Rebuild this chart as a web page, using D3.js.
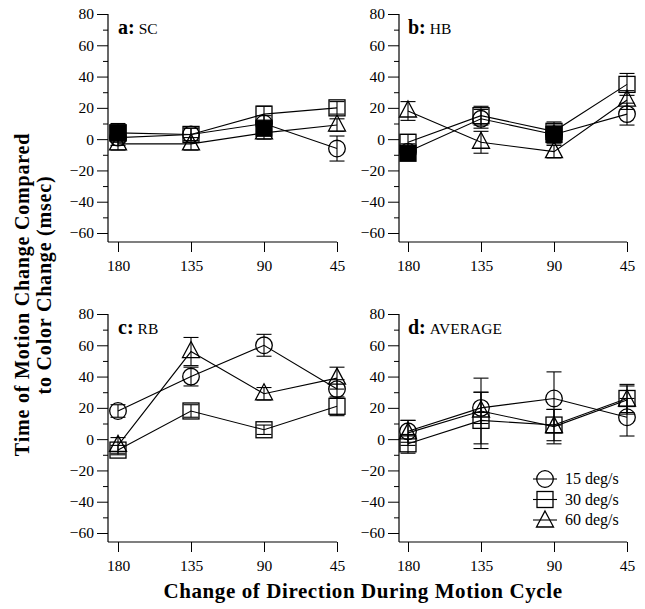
<!DOCTYPE html>
<html><head><meta charset="utf-8">
<script src="https://cdn.jsdelivr.net/npm/d3@7"></script>
<style>
html,body{margin:0;padding:0;background:#fff;}
svg{display:block;}
text{font-family:"Liberation Serif","Times New Roman",serif;fill:#000;}
</style></head>
<body>
<svg id="chart" width="645" height="609"></svg>
<script>
// ---- data ----
const categories = ["180", "135", "90", "45"];
const panelIds = ["a", "b", "c", "d"];
const panelNames = ["SC", "HB", "RB", "AVERAGE"];
const seriesNames = ["15 deg/s", "30 deg/s", "60 deg/s"];
const yTickValues = [-60, -40, -20, 0, 20, 40, 60, 80];
const yMinorValues = [-50, -30, -10, 10, 30, 50, 70];

// values per panel [a, b, c, d], per category [180,135,90,45]
const s15 = [[1, 3, 10, -6], [-8, 13, 3, 16], [18, 40, 60, 32], [5, 20, 26, 14]];
const s15err = [[5, 4, 5, 8], [5, 6, 6, 7], [4, 6, 7, 6], [7, 10, 17, 12]];
const s30 = [[4, 3, 16, 20], [-2, 15, 5, 35], [-7, 18, 6, 21], [-3, 12, 9, 26]];
const s30err = [[6, 4, 5, 4], [5, 6, 6, 7], [3, 4, 3, 6], [6, 18, 10, 9]];
const s60 = [[-3, -3, 4, 9], [18, -2, -8, 25], [-4, 56, 29, 39], [4, 18, 8, 25]];
const s60err = [[4, 4, 4, 4], [6, 7, 4, 6], [5, 9, 4, 7], [8, 21, 11, 9]];
const filledSq = [[4, null, 7, null], [-9, null, 3, null], [null, null, null, null], [null, null, null, null]];

// ---- layout ----
const FONT = "'Liberation Serif', 'Times New Roman', serif";
const svg = d3.select("#chart");
const panelLayout = [
  {ax: 108, top: 14, bot: 233, x0: 118, x1: 337},
  {ax: 399, top: 14, bot: 233, x0: 408, x1: 627},
  {ax: 108, top: 314, bot: 533, x0: 118, x1: 337},
  {ax: 399, top: 314, bot: 533, x0: 408, x1: 627}
];
const series = [
  {vals: s15, errs: s15err, shape: "circle"},
  {vals: s30, errs: s30err, shape: "square"},
  {vals: s60, errs: s60err, shape: "triangle"}
];
const SW = 1.3;

function marker(g, shape, cx, cy, filled) {
  const fill = filled ? "#000" : "none";
  if (shape === "circle") {
    g.append("circle").attr("cx", cx).attr("cy", cy).attr("r", 8.3)
      .attr("fill", fill).attr("stroke", "#000").attr("stroke-width", SW);
  } else if (shape === "square") {
    g.append("rect").attr("x", cx - 8).attr("y", cy - 8).attr("width", 16).attr("height", 16)
      .attr("fill", fill).attr("stroke", "#000").attr("stroke-width", SW);
  } else {
    g.append("path").attr("d", `M${cx},${cy - 10}L${cx + 8.5},${cy + 6}L${cx - 8.5},${cy + 6}Z`)
      .attr("fill", fill).attr("stroke", "#000").attr("stroke-width", SW);
  }
}

panelLayout.forEach((L, pi) => {
  const g = svg.append("g").attr("font-family", FONT);
  const y = d3.scaleLinear().domain([-60, 80]).range([L.bot, L.top]);
  const x = d3.scalePoint().domain(categories).range([L.x0, L.x1]);
  const bottomY = L.bot + 9;

  // y axis majors
  const ya = g.append("g").attr("transform", `translate(${L.ax},0)`)
    .call(d3.axisLeft(y).tickValues(yTickValues).tickSize(11).tickPadding(3).tickFormat(d3.format("d")));
  ya.attr("font-family", FONT);
  ya.select(".domain").remove();
  ya.selectAll("text").attr("font-size", 15.5).attr("font-family", FONT).attr("fill", "#000");
  ya.selectAll("line").attr("stroke", "#000");
  const ym = g.append("g").attr("transform", `translate(${L.ax},0)`)
    .call(d3.axisLeft(y).tickValues(yMinorValues).tickSize(5).tickFormat(""));
  ym.select(".domain").remove();
  ym.selectAll("line").attr("stroke", "#000");
  g.append("line").attr("x1", L.ax).attr("x2", L.ax).attr("y1", y(80)).attr("y2", bottomY)
    .attr("stroke", "#000").attr("stroke-width", 1.2);

  // x axis
  const xa = g.append("g").attr("transform", `translate(0,${bottomY})`)
    .call(d3.axisBottom(x).tickSize(10).tickPadding(8));
  xa.attr("font-family", FONT);
  xa.select(".domain").remove();
  xa.selectAll("text").attr("font-size", 15.5).attr("font-family", FONT).attr("fill", "#000");
  xa.selectAll("line").attr("stroke", "#000");
  g.append("line").attr("x1", L.ax).attr("x2", L.x1).attr("y1", bottomY).attr("y2", bottomY)
    .attr("stroke", "#000").attr("stroke-width", 1.2);

  // panel title
  const t = g.append("text").attr("x", L.x0).attr("y", L.top + 20).attr("font-family", FONT);
  t.append("tspan").attr("font-size", 20).attr("font-weight", "bold").text(panelIds[pi] + ":");
  t.append("tspan").attr("font-size", 15.5).attr("dx", 4).text(panelNames[pi]);

  // lines
  const line = d3.line().x((d, i) => x(categories[i])).y(d => y(d));
  series.forEach(s => {
    g.append("path").datum(s.vals[pi]).attr("d", line)
      .attr("fill", "none").attr("stroke", "#000").attr("stroke-width", 1.1);
  });
  // error bars
  series.forEach(s => {
    s.vals[pi].forEach((v, i) => {
      const e = s.errs[pi][i];
      const cx = x(categories[i]);
      g.append("line").attr("x1", cx).attr("x2", cx).attr("y1", y(v - e)).attr("y2", y(v + e))
        .attr("stroke", "#000").attr("stroke-width", 1.1);
      [v - e, v + e].forEach(w => {
        g.append("line").attr("x1", cx - 7.5).attr("x2", cx + 7.5).attr("y1", y(w)).attr("y2", y(w))
          .attr("stroke", "#000").attr("stroke-width", 1.1);
      });
    });
  });
  // markers
  series.forEach(s => {
    s.vals[pi].forEach((v, i) => marker(g, s.shape, x(categories[i]), y(v), false));
  });
  filledSq[pi].forEach((v, i) => {
    if (v !== null) marker(g, "square", x(categories[i]), y(v), true);
  });

  // legend in panel d
  if (pi === 3) {
    const lg = g.append("g");
    ["circle", "square", "triangle"].forEach((sh, k) => {
      const ly = 479 + k * 20.5;
      lg.append("line").attr("x1", 533).attr("x2", 557).attr("y1", ly).attr("y2", ly)
        .attr("stroke", "#000").attr("stroke-width", 1.1);
      marker(lg, sh, 545, ly + (sh === "triangle" ? 1 : 0), false);
      lg.append("text").attr("x", 565).attr("y", ly + 5).attr("font-size", 16).attr("font-family", FONT).text(seriesNames[k]);
    });
  }
});

// axis titles
svg.append("text").attr("transform", "translate(28.5,294.5) rotate(-90)").attr("font-family", FONT)
  .attr("text-anchor", "middle").attr("font-size", 20).attr("font-weight", "bold")
  .attr("letter-spacing", 0.8)
  .text("Time of Motion Change Compared");
svg.append("text").attr("transform", "translate(51,285) rotate(-90)").attr("font-family", FONT)
  .attr("text-anchor", "middle").attr("font-size", 20).attr("font-weight", "bold")
  .attr("letter-spacing", 0.8)
  .text("to Color Change (msec)");
svg.append("text").attr("x", 363).attr("y", 598).attr("font-family", FONT)
  .attr("text-anchor", "middle").attr("font-size", 21).attr("font-weight", "bold")
  .attr("letter-spacing", 0.6)
  .text("Change of Direction During Motion Cycle");
</script>
</body></html>
